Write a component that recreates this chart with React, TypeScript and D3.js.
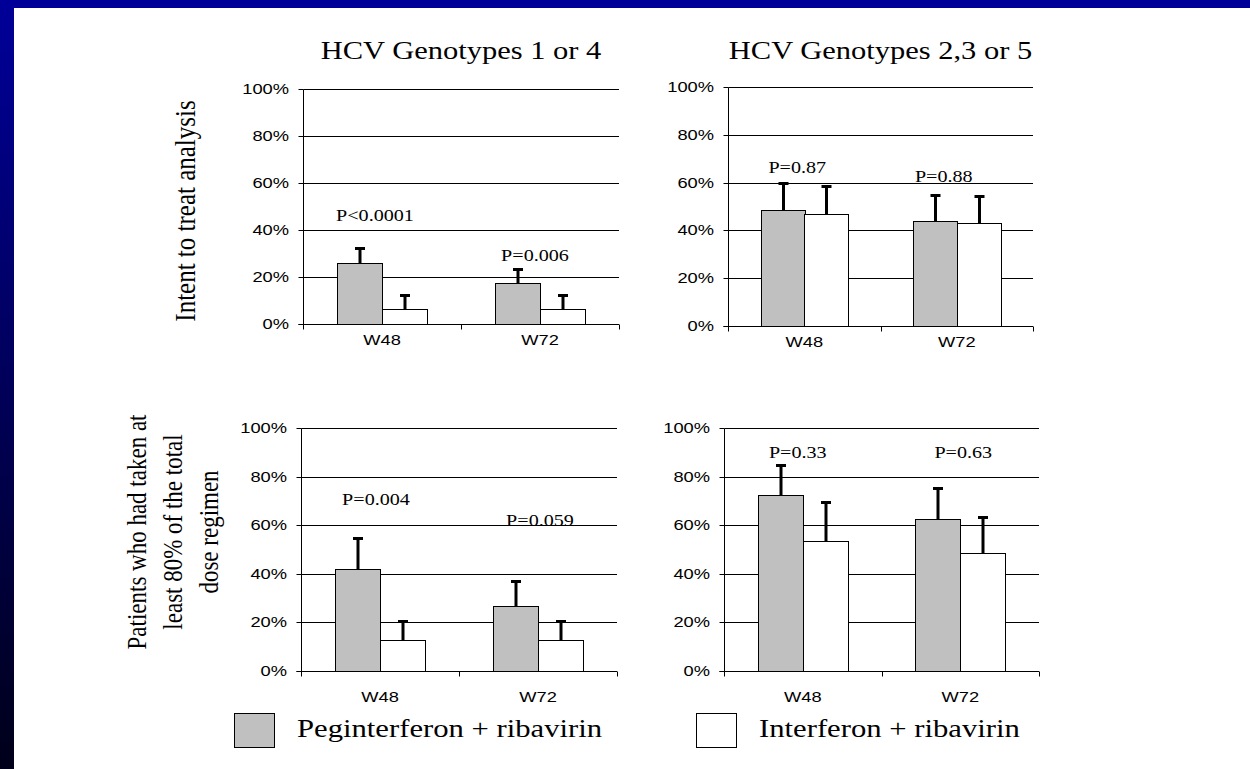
import React from 'react';
import * as d3 from 'd3';

// categories and series
const categories = ['W48', 'W72'];
const seriesKeys = ['peg', 'ifn'];
const seriesNames = ['Peginterferon + ribavirin', 'Interferon + ribavirin'];
const yTicks = [0, 20, 40, 60, 80, 100];

const columnTitles = ['HCV Genotypes 1 or 4', 'HCV Genotypes 2,3 or 5'];
const rowTitleTop = ['Intent to treat analysis'];
const rowTitleBottom = ['Patients who had taken at', 'least 80% of the total', 'dose regimen'];

// intent to treat, genotypes 1 or 4
const ittG14Peg = [25.8, 17.4];
const ittG14PegErr = [32.5, 23.4];
const ittG14Ifn = [6.4, 6.4];
const ittG14IfnErr = [12.2, 12.3];
const ittG14P = ['P<0.0001', 'P=0.006'];

// intent to treat, genotypes 2,3 or 5
const ittG235Peg = [48.4, 43.8];
const ittG235PegErr = [59.8, 54.7];
const ittG235Ifn = [47.0, 43.3];
const ittG235IfnErr = [58.5, 54.3];
const ittG235P = ['P=0.87', 'P=0.88'];

// >= 80% dose, genotypes 1 or 4
const adhG14Peg = [42.0, 26.8];
const adhG14PegErr = [54.8, 37.0];
const adhG14Ifn = [12.8, 12.8];
const adhG14IfnErr = [20.5, 20.5];
const adhG14P = ['P=0.004', 'P=0.059'];

// >= 80% dose, genotypes 2,3 or 5
const adhG235Peg = [72.5, 62.5];
const adhG235PegErr = [84.9, 75.4];
const adhG235Ifn = [53.7, 48.6];
const adhG235IfnErr = [69.5, 63.5];
const adhG235P = ['P=0.33', 'P=0.63'];

const W = 1250;
const H = 769;
const SX = 1.22; // the slide is stretched horizontally
const SERIF = '"Liberation Serif", "Times New Roman", serif';
const SANS = '"Liberation Sans", Arial, sans-serif';
const GRAY = '#c0c0c0';

const panels = [
  { frame: { x0: 303, x1: 619, yTop: 89, yBot: 324 }, peg: ittG14Peg, pegErr: ittG14PegErr, ifn: ittG14Ifn, ifnErr: ittG14IfnErr, p: ittG14P, pAt: [[43.8, -7], [26.8, -5]], catY: 345 },
  { frame: { x0: 728, x1: 1033, yTop: 87, yBot: 326 }, peg: ittG235Peg, pegErr: ittG235PegErr, ifn: ittG235Ifn, ifnErr: ittG235IfnErr, p: ittG235P, pAt: [[63.9, -7], [60.1, -13]], catY: 347 },
  { frame: { x0: 301, x1: 617, yTop: 428, yBot: 671 }, peg: adhG14Peg, pegErr: adhG14PegErr, ifn: adhG14Ifn, ifnErr: adhG14IfnErr, p: adhG14P, pAt: [[68.3, -4], [59.7, 2]], catY: 702 },
  { frame: { x0: 724, x1: 1039, yTop: 428, yBot: 671 }, peg: adhG235Peg, pegErr: adhG235PegErr, ifn: adhG235Ifn, ifnErr: adhG235IfnErr, p: adhG235P, pAt: [[87.7, -5], [87.7, 3]], catY: 702 },
];

const px = (v: number) => Math.round(v) + 0.5;

function Panel({ cfg }: { cfg: any }) {
  const { frame } = cfg;
  const x = d3.scaleBand<string>().domain(categories).range([frame.x0, frame.x1]);
  const xs = d3.scaleBand<string>().domain(seriesKeys).range([0, x.bandwidth()]).paddingOuter(0.75);
  const y = d3.scaleLinear().domain([0, 100]).range([frame.yBot, frame.yTop]);
  const vals: Record<string, number[]> = { peg: cfg.peg, ifn: cfg.ifn };
  const errs: Record<string, number[]> = { peg: cfg.pegErr, ifn: cfg.ifnErr };
  const x0 = px(frame.x0);
  const yb = px(frame.yBot);

  return (
    <g>
      {yTicks.filter(t => t > 0).map(t => (
        <line key={t} x1={x0} x2={frame.x1} y1={px(y(t))} y2={px(y(t))} stroke="#000" strokeWidth={1} />
      ))}
      {categories.map((c, i) =>
        seriesKeys.map(s => {
          const bx = Math.round((x(c) as number) + (xs(s) as number)) + 0.5;
          const bw = Math.round(xs.bandwidth());
          const top = px(y(vals[s][i]));
          const cx = bx + bw / 2;
          const et = px(y(errs[s][i]));
          return (
            <g key={c + s}>
              <rect x={bx} y={top} width={bw} height={yb - top} fill={s === 'peg' ? GRAY : '#fff'} stroke="#000" strokeWidth={1} />
              <line x1={cx} x2={cx} y1={top} y2={et} stroke="#000" strokeWidth={3} />
              <line x1={cx - 5} x2={cx + 5} y1={et} y2={et} stroke="#000" strokeWidth={3} />
            </g>
          );
        })
      )}
      <line x1={x0} x2={x0} y1={px(frame.yTop)} y2={yb + 5} stroke="#000" />
      <line x1={x0 - 5} x2={frame.x1} y1={yb} y2={yb} stroke="#000" />
      {yTicks.map(t => (
        <g key={t}>
          <line x1={x0 - 5} x2={x0} y1={px(y(t))} y2={px(y(t))} stroke="#000" />
          <text transform={`translate(${frame.x0 - 14},${y(t) + 5}) scale(${SX},1)`} textAnchor="end" fontFamily={SANS} fontSize={15}>{t}%</text>
        </g>
      ))}
      {categories.map((c, i) => {
        const edge = px((x(c) as number) + x.bandwidth());
        const cc = (x(c) as number) + x.bandwidth() / 2;
        return (
          <g key={c}>
            <line x1={edge} x2={edge} y1={yb} y2={yb + 5} stroke="#000" />
            <text transform={`translate(${cc},${cfg.catY}) scale(${SX},1)`} textAnchor="middle" fontFamily={SANS} fontSize={15}>{c}</text>
            <text transform={`translate(${cc + cfg.pAt[i][1]},${y(cfg.pAt[i][0])}) scale(${SX},1)`} textAnchor="middle" fontFamily={SERIF} fontSize={16.5}>{cfg.p[i]}</text>
          </g>
        );
      })}
    </g>
  );
}

export default function App() {
  return (
    <svg width={W} height={H} style={{ position: 'absolute', left: 0, top: 0, display: 'block' }}>
      <defs>
        <linearGradient id="edge" x1="0" y1="0" x2="0" y2="1">
          <stop offset="0" stopColor="#000099" />
          <stop offset="1" stopColor="#00001a" />
        </linearGradient>
      </defs>
      <rect x={0} y={0} width={W} height={H} fill="#fff" />
      <rect x={0} y={0} width={14} height={H} fill="url(#edge)" />
      <rect x={0} y={0} width={W} height={8} fill="#000099" />

      {columnTitles.map((t, i) => {
        const f = panels[i].frame;
        return (
          <text key={t} transform={`translate(${(f.x0 + f.x1) / 2},59) scale(${SX},1)`} textAnchor="middle" fontFamily={SERIF} fontSize={25}>{t}</text>
        );
      })}

      <text transform={`translate(195,211) scale(${SX},1) rotate(-90)`} textAnchor="middle" fontFamily={SERIF} fontSize={25}>{rowTitleTop[0]}</text>
      {rowTitleBottom.map((t, i) => (
        <text key={t} transform={`translate(${146 + i * 36},532) scale(${SX},1) rotate(-90)`} textAnchor="middle" fontFamily={SERIF} fontSize={23}>{t}</text>
      ))}

      {panels.map((p, i) => <Panel key={i} cfg={p} />)}

      {seriesNames.map((s, i) => {
        const bx = i === 0 ? 234 : 696;
        return (
          <g key={s}>
            <rect x={bx + 0.5} y={713.5} width={40} height={34} fill={i === 0 ? GRAY : '#fff'} stroke="#000" strokeWidth={1} />
            <text transform={`translate(${bx + 63},737) scale(1.18,1)`} fontFamily={SERIF} fontSize={26}>{s}</text>
          </g>
        );
      })}
    </svg>
  );
}
